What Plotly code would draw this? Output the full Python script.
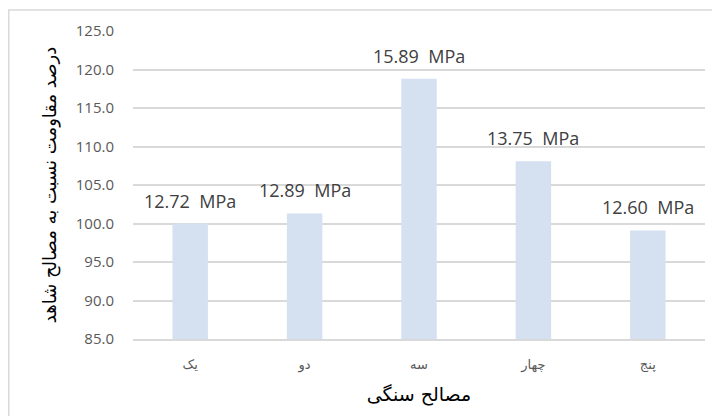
import plotly.graph_objects as go

categories = ["یک", "دو", "سه", "چهار", "پنج"]
values = [100.0, 101.3, 118.8, 108.1, 99.1]
labels = ["12.72 MPa", "12.89 MPa", "15.89 MPa", "13.75 MPa", "12.60 MPa"]
y_ticks = [85, 90, 95, 100, 105, 110, 115, 120, 125]
y_ticktext = [f"{v:.1f}" for v in y_ticks]

# page body has an 8px margin, so the figure starts at (8, 8) on screen
W, H = 712, 408
L, R, T, B = 125, 15, 23, 77
pw, ph = W - L - R, H - T - B

fig = go.Figure(go.Bar(
    x=categories, y=values,
    marker=dict(color="#d5e1f1", line=dict(width=0)),
    cliponaxis=False,
))

for c, v, t in zip(categories, values, labels):
    fig.add_annotation(x=c, y=v, text=t.replace(" ", "\u00a0\u00a0"), showarrow=False,
                       xanchor="center", yanchor="bottom", yshift=9,
                       font=dict(family="Open Sans, DejaVu Sans", size=18, color="#404040"))

fig.update_layout(
    width=W, height=H, margin=dict(l=L, r=R, t=T, b=B),
    paper_bgcolor="white", plot_bgcolor="white",
    bargap=0.69, showlegend=False,
    xaxis=dict(
        showgrid=False, showline=True, linecolor="#d9d9d9", linewidth=2,
        ticks="", ticklabelstandoff=12,
        tickfont=dict(family="DejaVu Sans", size=13, color="#595959"),
        title=dict(text="مصالح سنگی", font=dict(family="DejaVu Sans", size=19, color="black"), standoff=16),
    ),
    yaxis=dict(
        range=[85, 125], tickvals=y_ticks, ticktext=y_ticktext,
        showgrid=True, gridcolor="#d9d9d9", gridwidth=1.5, zeroline=False,
        showline=False, ticks="", ticklabelstandoff=18,
        tickfont=dict(family="Open Sans, DejaVu Sans", size=15, color="#595959"),
        title=dict(text="درصد مقاومت نسبت به مصالح شاهد", font=dict(family="DejaVu Sans", size=18, color="black"), standoff=14),
    ),
)

x0 = (0.75 - L) / pw
y1 = 1 + (T - 2) / ph
fig.add_shape(type="rect", xref="paper", yref="paper",
              x0=x0, x1=1 + (R + 20) / pw, y0=-(B + 20) / ph, y1=y1,
              line=dict(color="#d9d9d9", width=1.5), fillcolor="rgba(0,0,0,0)", layer="below")

fig.write_html("out.html")
